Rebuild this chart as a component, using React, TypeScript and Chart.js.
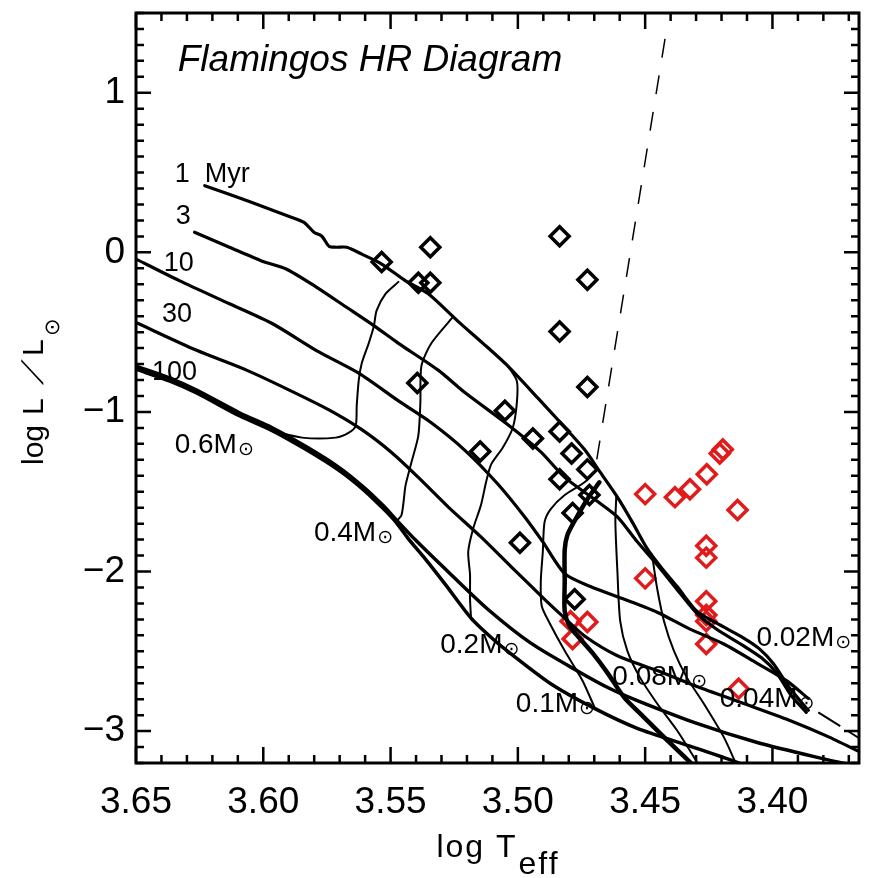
import React, { useEffect, useRef } from 'react';
import { Chart, registerables } from 'chart.js';

Chart.register(...registerables);

const SANS = "'Liberation Sans', Arial, Helvetica, sans-serif";
const SYMBOL = "'DejaVu Sans', sans-serif";

// ---------- axes ----------
const xMin = 3.366;
const xMax = 3.65;
const yMin = -3.2;
const yMax = 1.5;
const xTicks = [3.65, 3.6, 3.55, 3.5, 3.45, 3.4];
const xTickLabels = ['3.65', '3.60', '3.55', '3.50', '3.45', '3.40'];
const yTicks = [1, 0, -1, -2, -3];
const yTickLabels = ['1', '0', '\u22121', '\u22122', '\u22123'];
const xMinorStep = 0.01;
const yMinorStep = 0.1;

type P = [number, number];

// ---------- isochrones (log Teff, log L) ----------
const iso1Myr: P[] = [
  [3.623, 0.418], [3.6055, 0.318], [3.5898, 0.225], [3.584, 0.188], [3.5801, 0.126], [3.577, 0.101],
  [3.5742, 0.039], [3.5715, 0.032], [3.5672, 0.032], [3.5613, -0.011], [3.5535, -0.073], [3.5441, -0.179],
  [3.5352, -0.26], [3.5234, -0.434], [3.5137, -0.57], [3.5039, -0.713], [3.4922, -0.912], [3.4832, -1.068],
  [3.4738, -1.236], [3.4676, -1.379], [3.4609, -1.534], [3.4551, -1.689], [3.4492, -1.857], [3.4434, -1.981],
  [3.4375, -2.093], [3.4297, -2.249], [3.4219, -2.324], [3.4113, -2.417], [3.4051, -2.485], [3.3996, -2.578],
  [3.3934, -2.727], [3.3859, -2.87],
];
const iso3Myr: P[] = [
  [3.627, 0.126], [3.6133, 0.032], [3.6004, -0.055], [3.591, -0.104], [3.5793, -0.216], [3.5676, -0.341],
  [3.5566, -0.459], [3.5469, -0.57], [3.5313, -0.738], [3.5207, -0.88], [3.5039, -1.08], [3.491, -1.25],
  [3.4816, -1.41], [3.4688, -1.56], [3.4609, -1.658], [3.4531, -1.814], [3.4453, -1.957], [3.4375, -2.112],
  [3.4297, -2.262], [3.4219, -2.362], [3.4113, -2.466], [3.4043, -2.541], [3.3984, -2.634], [3.3926, -2.777],
  [3.3867, -2.883],
];
const iso10Myr: P[] = [
  [3.65, -0.042], [3.6328, -0.179], [3.6133, -0.322], [3.5965, -0.446], [3.5793, -0.614], [3.5625, -0.757],
  [3.5469, -0.931], [3.534, -1.068], [3.5207, -1.242], [3.5078, -1.453], [3.4973, -1.658], [3.4902, -1.814],
  [3.4816, -2.013], [3.4715, -2.094], [3.4582, -2.174], [3.4453, -2.255], [3.4324, -2.361], [3.4191, -2.454],
  [3.4063, -2.572], [3.3945, -2.684], [3.3859, -2.796],
];
const iso30Myr: P[] = [
  [3.65, -0.44], [3.6262, -0.614], [3.6066, -0.738], [3.5898, -0.863], [3.5742, -0.987], [3.5613, -1.111],
  [3.5496, -1.254], [3.5391, -1.41], [3.5273, -1.596], [3.5145, -1.783], [3.5027, -1.969], [3.4895, -2.174],
  [3.4816, -2.292], [3.4738, -2.404], [3.4609, -2.528], [3.4453, -2.621], [3.4297, -2.721], [3.4113, -2.827],
  [3.3934, -2.932], [3.3777, -3.038], [3.3633, -3.15],
];
const iso100MyrA: P[] = [
  [3.65, -0.732], [3.6367, -0.807], [3.6262, -0.881], [3.6094, -1.024], [3.5965, -1.117], [3.5832, -1.236],
  [3.5703, -1.366], [3.5605, -1.49], [3.5527, -1.609], [3.548, -1.689], [3.543, -1.795], [3.5371, -1.907],
  [3.5285, -2.081], [3.5184, -2.292], [3.5098, -2.423], [3.5027, -2.516], [3.4871, -2.703], [3.4699, -2.858],
  [3.4531, -2.983], [3.4324, -3.094], [3.4141, -3.194], [3.4063, -3.244],
];
const iso100MyrB: P[] = [
  [3.65, -0.713], [3.6367, -0.788], [3.6262, -0.863], [3.6094, -1.005], [3.5965, -1.099], [3.5832, -1.217],
  [3.5703, -1.347], [3.5605, -1.472], [3.5527, -1.59], [3.548, -1.672], [3.5402, -1.803], [3.5262, -2.02],
  [3.5117, -2.238], [3.4949, -2.449], [3.4766, -2.623], [3.4637, -2.735], [3.4531, -2.809], [3.4297, -2.952],
  [3.4063, -3.07], [3.3828, -3.163], [3.3633, -3.232],
];
const isoTail: P[] = [[3.382, -2.8825], [3.3633, -3.0709]];

// ---------- mass tracks ----------
const track06: P[] = [
  [3.5469, -0.185], [3.552, -0.26], [3.5555, -0.365], [3.5566, -0.465], [3.5586, -0.57], [3.5613, -0.694],
  [3.5625, -0.8], [3.5633, -0.962], [3.5637, -1.086], [3.5664, -1.13], [3.5715, -1.161], [3.5848, -1.161],
  [3.5965, -1.117],
];
const track04: P[] = [
  [3.5254, -0.403], [3.534, -0.57], [3.5379, -0.713], [3.5383, -0.943], [3.5391, -1.149], [3.5418, -1.316],
  [3.5441, -1.459], [3.5457, -1.646], [3.548, -1.689],
];
const track02: P[] = [
  [3.5039, -0.713], [3.5004, -0.806], [3.5004, -0.943], [3.502, -1.099], [3.5059, -1.223], [3.5105, -1.329],
  [3.5125, -1.441], [3.5145, -1.584], [3.5176, -1.733], [3.5195, -1.876], [3.5188, -2.019], [3.5188, -2.168],
  [3.5184, -2.292],
];
const track01: P[] = [
  [3.4688, -1.36], [3.4738, -1.441], [3.4816, -1.521], [3.4871, -1.609], [3.4895, -1.689], [3.4902, -1.876],
  [3.491, -2.062], [3.4906, -2.218], [3.4875, -2.324], [3.4816, -2.497], [3.4746, -2.684], [3.4699, -2.851],
];
const track008: P[] = [
  [3.468, -1.441], [3.4727, -1.547], [3.4773, -1.671], [3.4805, -1.77], [3.4816, -1.863], [3.4816, -2.062],
  [3.4816, -2.249], [3.4797, -2.342], [3.4758, -2.417], [3.4707, -2.51], [3.4648, -2.635], [3.4582, -2.79],
  [3.4512, -2.901], [3.4426, -3.038], [3.4324, -3.194], [3.4297, -3.244],
];
const track006: P[] = [
  [3.4613, -1.521], [3.4617, -1.689], [3.4609, -2.0], [3.4598, -2.311], [3.457, -2.497], [3.452, -2.665],
  [3.4453, -2.827], [3.4375, -2.995], [3.4289, -3.213],
];
const track004: P[] = [
  [3.4473, -1.894], [3.4453, -2.105], [3.4426, -2.311], [3.4387, -2.497], [3.4336, -2.665], [3.427, -2.827],
  [3.4191, -3.038], [3.4141, -3.212],
];

// ---------- dashed reference line ----------
const dashedLine: P[] = [[3.4422, 1.3375], [3.4695, -1.3474]];

// ---------- observed objects ----------
const blackTeff = [3.5535, 3.5344, 3.5391, 3.5344, 3.5395, 3.4836, 3.4727, 3.4836, 3.4727, 3.5051, 3.4941, 3.5148, 3.4836, 3.4789, 3.4727, 3.4836, 3.4719, 3.4785, 3.4992, 3.4777];
const blackLum = [-0.061, 0.032, -0.191, -0.191, -0.819, 0.101, -0.172, -0.496, -0.844, -0.993, -1.167, -1.248, -1.123, -1.26, -1.36, -1.422, -1.521, -1.633, -1.82, -2.174];
const redTeff = [3.45, 3.4383, 3.4324, 3.4258, 3.4207, 3.4195, 3.4137, 3.426, 3.426, 3.45, 3.426, 3.426, 3.426, 3.426, 3.4133, 3.4793, 3.4727, 3.4785];
const redLum = [-1.515, -1.534, -1.484, -1.391, -1.26, -1.236, -1.615, -1.839, -1.913, -2.043, -2.186, -2.273, -2.311, -2.454, -2.734, -2.311, -2.317, -2.423];

// ---------- text ----------
const titleText = 'Flamingos HR Diagram';
const titleAnchor: P = [3.6336, 1.1373];
const isoLabelText = ['1  Myr', '3', '10', '30', '100'];
const isoLabelTeff = [3.6348, 3.6344, 3.6391, 3.6398, 3.6437];
const isoLabelLum = [0.4425, 0.1753, -0.1168, -0.4338, -0.8004];
const massLabelText = ['0.6', '0.4', '0.2', '0.1', '0.08', '0.04', '0.02'];
const massLabelTeff = [3.6348, 3.5801, 3.5305, 3.5008, 3.4629, 3.4207, 3.4063];
const massLabelLum = [-1.2542, -1.8073, -2.5096, -2.8825, -2.7085, -2.8514, -2.4661];
const xTitleMain = 'log T';
const xTitleSub = 'eff';
const yTitleParts = ['log', 'L', '/', 'L'];

const toPts = (a: P[]) => a.map(([x, y]) => ({ x, y }));
const zipPts = (xs: number[], ys: number[]) => xs.map((x, i) => ({ x, y: ys[i] }));

function drawSun(ctx: CanvasRenderingContext2D, left: number, cy: number, size: number) {
  ctx.font = `${size}px ${SYMBOL}`;
  const m = ctx.measureText('\u2299');
  const yb = cy + (m.actualBoundingBoxAscent - m.actualBoundingBoxDescent) / 2;
  ctx.fillText('\u2299', left, yb);
}

const framePlugin = {
  id: 'frame',
  afterDatasetsDraw(chart: any) {
    const { ctx, chartArea: a, scales } = chart;
    const xs = scales.x;
    const ys = scales.y;
    ctx.save();
    ctx.strokeStyle = '#000';
    ctx.lineCap = 'butt';
    ctx.lineWidth = 2.5;
    const kx0 = Math.ceil(xMin / xMinorStep - 1e-6);
    const kx1 = Math.floor(xMax / xMinorStep + 1e-6);
    for (let k = kx0; k <= kx1; k++) {
      const px = xs.getPixelForValue(k * xMinorStep);
      const len = k % 5 === 0 ? 16 : 8;
      ctx.beginPath();
      ctx.moveTo(px, a.bottom);
      ctx.lineTo(px, a.bottom - len);
      ctx.moveTo(px, a.top);
      ctx.lineTo(px, a.top + len);
      ctx.stroke();
    }
    const ky0 = Math.ceil(yMin / yMinorStep - 1e-6);
    const ky1 = Math.floor(yMax / yMinorStep + 1e-6);
    for (let k = ky0; k <= ky1; k++) {
      const py = ys.getPixelForValue(k * yMinorStep);
      const len = k % 10 === 0 ? 15 : 8;
      ctx.beginPath();
      ctx.moveTo(a.left, py);
      ctx.lineTo(a.left + len, py);
      ctx.moveTo(a.right, py);
      ctx.lineTo(a.right - len, py);
      ctx.stroke();
    }
    ctx.lineWidth = 3;
    ctx.strokeRect(a.left, a.top, a.right - a.left, a.bottom - a.top);
    ctx.restore();
  },
};

const textPlugin = {
  id: 'texts',
  afterDraw(chart: any) {
    const { ctx, scales, chartArea: a } = chart;
    const xs = scales.x;
    const ys = scales.y;
    ctx.save();
    ctx.fillStyle = '#000';
    ctx.textAlign = 'left';
    ctx.textBaseline = 'alphabetic';

    ctx.font = `italic 37px ${SANS}`;
    ctx.fillText(titleText, xs.getPixelForValue(titleAnchor[0]), ys.getPixelForValue(titleAnchor[1]));

    ctx.font = `27px ${SANS}`;
    isoLabelText.forEach((t, i) => {
      ctx.fillText(t, xs.getPixelForValue(isoLabelTeff[i]), ys.getPixelForValue(isoLabelLum[i]));
    });

    massLabelText.forEach((t, i) => {
      const px = xs.getPixelForValue(massLabelTeff[i]);
      const py = ys.getPixelForValue(massLabelLum[i]);
      ctx.font = `28px ${SANS}`;
      const s = t + 'M';
      ctx.fillText(s, px, py);
      const w = ctx.measureText(s).width;
      drawSun(ctx, px + w + 1, py - 4, 19);
    });

    // x axis title
    ctx.save();
    ctx.font = `32px ${SANS}`;
    (ctx as any).letterSpacing = '2px';
    const w1 = ctx.measureText(xTitleMain).width;
    const w2 = ctx.measureText(xTitleSub).width;
    const cx = (a.left + a.right) / 2;
    const x0 = cx - (w1 + w2) / 2;
    ctx.fillText(xTitleMain, x0, 857);
    ctx.fillText(xTitleSub, x0 + w1 + 1, 874);
    ctx.restore();

    // y axis title (rotated)
    ctx.save();
    const cy = (a.top + a.bottom) / 2;
    ctx.translate(43, cy + 77);
    ctx.rotate(-Math.PI / 2);
    ctx.font = `30px ${SANS}`;
    ctx.fillText(yTitleParts[0], 0, 0);
    ctx.fillText(yTitleParts[1], 50, 0);
    ctx.save();
    ctx.translate(80, 0);
    ctx.transform(1, 0, -0.8, 1, 0, 0);
    ctx.fillText(yTitleParts[2], 0, 0);
    ctx.restore();
    ctx.fillText(yTitleParts[3], 109, 0);
    drawSun(ctx, 129, 9, 21);
    ctx.restore();

    ctx.restore();
  },
};

export default function App() {
  const ref = useRef<HTMLCanvasElement>(null);
  useEffect(() => {
    const canvas = ref.current;
    if (!canvas) return;
    const line = (data: P[], width: number, extra: any = {}) => ({
      data: toPts(data),
      showLine: true,
      borderColor: '#000',
      backgroundColor: '#000',
      borderWidth: width,
      pointRadius: 0,
      pointHoverRadius: 0,
      tension: 0.25,
      borderJoinStyle: 'round',
      borderCapStyle: 'round',
      ...extra,
    });
    const diamonds = (xs: number[], ys: number[], color: string) => ({
      data: zipPts(xs, ys),
      showLine: false,
      pointStyle: 'rectRot',
      pointRadius: 9.5,
      pointHoverRadius: 9.5,
      pointBorderWidth: 3.5,
      borderWidth: 3.5,
      pointBorderColor: color,
      borderColor: color,
      pointBackgroundColor: 'rgba(0,0,0,0)',
      backgroundColor: 'rgba(0,0,0,0)',
    });
    const chart = new Chart(canvas, {
      type: 'scatter',
      data: {
        datasets: [
          line(track06, 2),
          line(track04, 2),
          line(track02, 2),
          line(track01, 2),
          line(track006, 2),
          line(track004, 2),
          line(track008, 4.5),
          line(iso1Myr, 3.2),
          line(iso3Myr, 3.2),
          line(iso10Myr, 3.2),
          line(iso30Myr, 3.2),
          line(iso100MyrA, 3.5),
          line(iso100MyrB, 3.5),
          line(isoTail, 2, { borderDash: [26, 9], borderCapStyle: 'butt', tension: 0 }),
          line(dashedLine, 1.5, { borderDash: [19, 18], borderCapStyle: 'butt', tension: 0 }),
          diamonds(blackTeff, blackLum, '#000'),
          diamonds(redTeff, redLum, '#e01b1b'),
        ] as any,
      },
      options: {
        animation: false,
        responsive: false,
        maintainAspectRatio: false,
        events: [],
        layout: { padding: { top: 7, right: 10, left: 0, bottom: 0 } },
        plugins: { legend: { display: false }, tooltip: { enabled: false }, title: { display: false } },
        scales: {
          x: {
            type: 'linear',
            min: xMin,
            max: xMax,
            reverse: true,
            afterBuildTicks: (s: any) => { s.ticks = xTicks.map((v) => ({ value: v })); },
            afterFit: (s: any) => {
              s.height = 115;
              s.paddingLeft = 0;
              s.paddingRight = 0;
              s.paddingTop = 0;
              s.paddingBottom = 0;
            },
            grid: { display: false, drawTicks: false },
            border: { display: false },
            ticks: {
              autoSkip: false,
              maxRotation: 0,
              padding: 18,
              color: '#000',
              font: { family: SANS, size: 37 },
              callback: (v: any) => {
                const i = xTicks.findIndex((t) => Math.abs(t - Number(v)) < 1e-6);
                return i >= 0 ? xTickLabels[i] : '';
              },
            },
          },
          y: {
            type: 'linear',
            min: yMin,
            max: yMax,
            afterBuildTicks: (s: any) => { s.ticks = yTicks.map((v) => ({ value: v })); },
            afterFit: (s: any) => {
              s.width = 136;
              s.paddingLeft = 0;
              s.paddingRight = 0;
              s.paddingTop = 0;
              s.paddingBottom = 0;
            },
            grid: { display: false, drawTicks: false },
            border: { display: false },
            ticks: {
              autoSkip: false,
              padding: 11,
              color: '#000',
              font: { family: SANS, size: 37 },
              callback: (v: any) => {
                const i = yTicks.findIndex((t) => Math.abs(t - Number(v)) < 1e-6);
                return i >= 0 ? yTickLabels[i] : '';
              },
            },
          },
        },
      } as any,
      plugins: [framePlugin, textPlugin],
    });
    return () => chart.destroy();
  }, []);
  return (
    <div style={{ position: 'absolute', left: 0, top: 0, width: 872, height: 878, background: '#fff' }}>
      <canvas ref={ref} width={872} height={878} style={{ display: 'block' }} />
    </div>
  );
}
